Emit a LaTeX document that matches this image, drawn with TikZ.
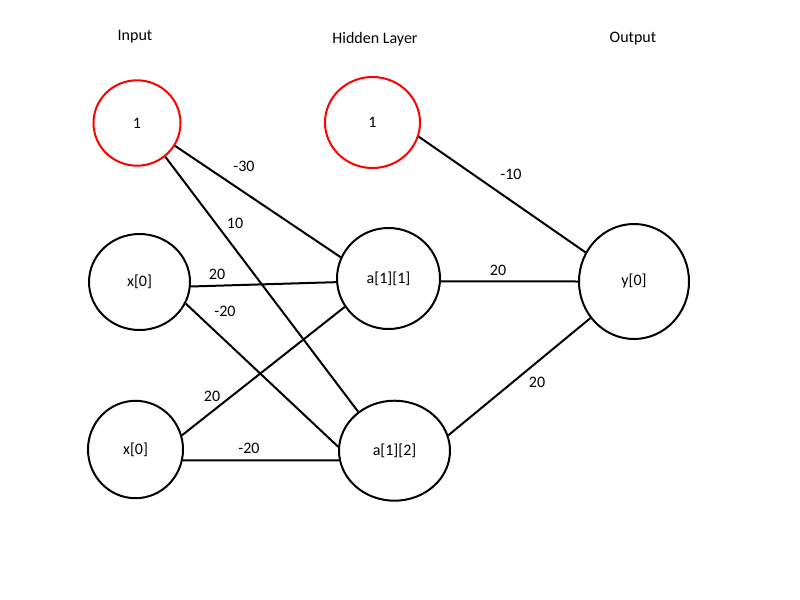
\documentclass[tikz,border=0pt]{standalone}
\usepackage{fontspec}
\setmainfont{Carlito}
\usetikzlibrary{shapes.geometric}

\begin{document}
\begin{tikzpicture}[x=0.75pt, y=-0.75pt,
    every node/.style={font=\fontsize{12}{14}\selectfont},
    neuron/.style 2 args={ellipse, draw, line width=1.5pt, inner sep=0pt,
        minimum width=#1*1.5pt, minimum height=#2*1.5pt},
    bias/.style={draw=red},
    edge/.style={line width=1.5pt}]
\useasboundingbox (0, 0) rectangle (800, 600);

\node (in) at (135, 37) {Input};
\node (hid) at (375, 39) {Hidden Layer};
\node (out) at (633, 39) {Output};

\node[neuron={43.5}{42.7}, bias] (b1) at (137, 123) {1};
\node[neuron={50.5}{48}] (x1) at (139.5, 282) {x[0]};
\node[neuron={47.5}{48.7}] (x2) at (135.5, 449.5) {x[0]};

\node[neuron={47.5}{45.5}, bias] (b2) at (372.5, 122.5) {1};
\node[neuron={51.5}{50.5}] (a11) at (388.5, 278.5) {a[1][1]};
\node[neuron={55.5}{50}] (a12) at (394.5, 450.7) {a[1][2]};

\node[neuron={55}{57.5}] (y0) at (634, 281.5) {y[0]};

\draw[edge] (b1.-31) -- (a11.156);
\draw[edge] (b1.-50) -- (a12.133);
\draw[edge] (x1.-5) -- (a11.184);
\draw[edge] (x1.-25) -- (a12.176);
\draw[edge] (x2.17) -- (a11.213);
\draw[edge] (x2.-13) -- (a12.190);
\draw[edge] (b2.-17) -- (y0.149);
\draw[edge] (a11.-3) -- (y0.180);
\draw[edge] (a12.16) -- (y0.220);

\node (w1) at (244, 166) {-30};
\node (w2) at (235, 223) {10};
\node (w3) at (217, 274) {20};
\node (w4) at (225, 311) {-20};
\node (w5) at (212, 396) {20};
\node (w6) at (249, 448) {-20};
\node (w7) at (511, 174) {-10};
\node (w8) at (498, 270) {20};
\node (w9) at (537, 382) {20};
\end{tikzpicture}
\end{document}
